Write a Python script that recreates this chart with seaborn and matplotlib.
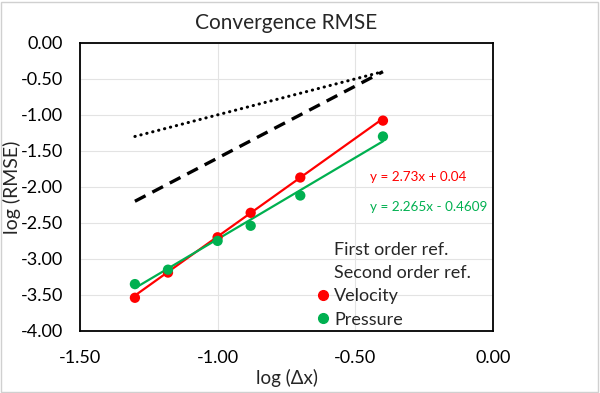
import matplotlib.pyplot as plt
import numpy as np
import seaborn as sns
from matplotlib.lines import Line2D
from matplotlib.patches import Rectangle

# log(dx) values for each grid
log_dx = [-1.30, -1.18, -1.00, -0.88, -0.70, -0.40]

# log(RMSE) values
velocity = [-3.54, -3.19, -2.70, -2.36, -1.87, -1.08]
pressure = [-3.35, -3.15, -2.75, -2.54, -2.12, -1.30]

# reference slopes (end points)
ref_x = [-1.30, -0.40]
first_order = [-1.30, -0.40]
second_order = [-2.20, -0.40]

# trendline coefficients (slope, intercept) from the chart labels
vel_fit = (2.73, 0.04)
pres_fit = (2.265, -0.4609)

red = '#FF0000'
green = '#00B050'

sns.set_style('white')
plt.rcParams['font.family'] = ['Lato', 'DejaVu Sans']

fig = plt.figure(figsize=(6, 3.93), dpi=100)
ax = fig.add_axes([0.133, 0.158, 0.689, 0.733])

# reference lines
sns.lineplot(x=ref_x, y=first_order, ax=ax, color='black', lw=2.2,
             linestyle=(0, (0.1, 1.9)), dash_capstyle='round')
sns.lineplot(x=ref_x, y=second_order, ax=ax, color='black', lw=2.4,
             linestyle=(0, (3.6, 2.3)))

# trend lines
fit_x = np.array([log_dx[0], log_dx[-1]])
sns.lineplot(x=fit_x, y=vel_fit[0] * fit_x + vel_fit[1], ax=ax, color=red, lw=1.6)
sns.lineplot(x=fit_x, y=pres_fit[0] * fit_x + pres_fit[1], ax=ax, color=green, lw=1.6)

# data points
sns.scatterplot(x=log_dx, y=velocity, ax=ax, color=red, s=55, edgecolor='none', zorder=3)
sns.scatterplot(x=log_dx, y=pressure, ax=ax, color=green, s=55, edgecolor='none', zorder=3)

ax.text(-0.272, -1.86, 'y = 2.73x + 0.04', color=red, fontsize=9.7, ha='center', va='center')
ax.text(-0.234, -2.28, 'y = 2.265x - 0.4609', color=green, fontsize=9.7, ha='center', va='center')

ax.set_xlim(-1.5, 0)
ax.set_ylim(-4, 0)
ax.set_xticks(np.arange(-1.5, 0.01, 0.5))
ax.set_yticks(np.arange(-4, 0.01, 0.5))
ax.set_xticklabels([f'{v:.2f}' for v in ax.get_xticks()])
ax.set_yticklabels([f'{v:.2f}' for v in ax.get_yticks()])
ax.tick_params(length=0, labelsize=13, colors='black')
ax.tick_params(axis='x', pad=14)
ax.tick_params(axis='y', pad=12)
ax.grid(True, color='#E3E3E3', lw=0.8)
ax.set_axisbelow(True)
for sp in ax.spines.values():
    sp.set_visible(True)
    sp.set_color('black')
    sp.set_linewidth(1.3)

ax.set_title('Convergence RMSE', fontsize=15, pad=10)
ax.set_xlabel('log (\u0394x)', fontsize=13.5, labelpad=2)
ax.set_ylabel('log (RMSE)', fontsize=14, labelpad=0)

handles = [
    Line2D([], [], linestyle='none'),
    Line2D([], [], linestyle='none'),
    Line2D([], [], linestyle='none', marker='o', color=red, markersize=7),
    Line2D([], [], linestyle='none', marker='o', color=green, markersize=7),
]
labels = ['First order ref.', 'Second order ref.', 'Velocity', 'Pressure']
ax.legend(handles, labels, loc='lower left', bbox_to_anchor=(0.536, -0.045),
          frameon=False, fontsize=13, handlelength=0.6, handletextpad=0.31,
          labelspacing=0.4)

fig.patches.append(Rectangle((0.002, 0.003), 0.995, 0.993, transform=fig.transFigure,
                             fill=False, edgecolor='#D0D0D0', lw=1))

fig.savefig('out.png', dpi=100)
